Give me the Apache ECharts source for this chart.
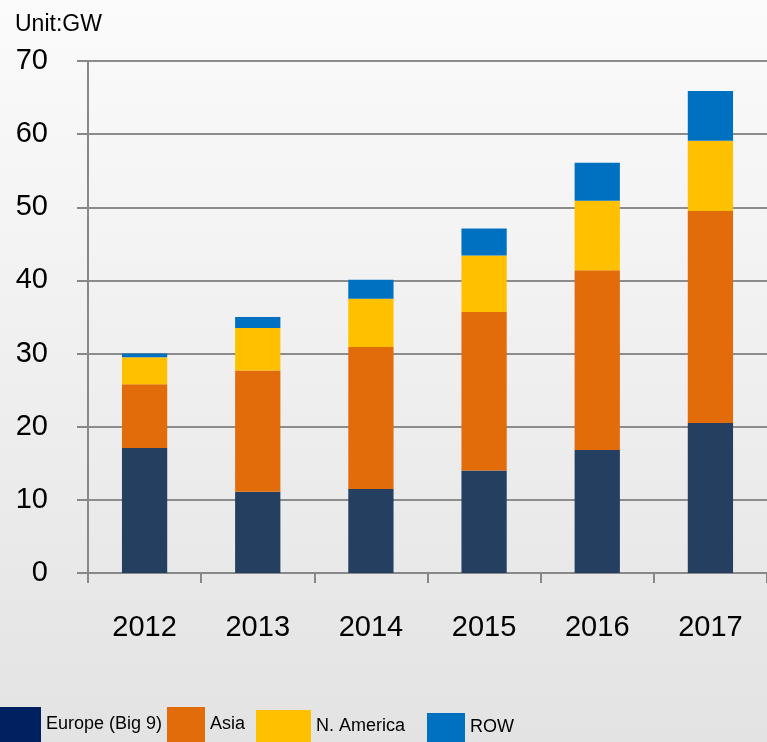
<!DOCTYPE html>
<html>
<head>
<meta charset="utf-8">
<script src="https://cdn.jsdelivr.net/npm/echarts@6/dist/echarts.min.js"></script>
<style>
  html, body { margin: 0; padding: 0; }
  #chart { width: 767px; height: 742px; }
</style>
</head>
<body>
<div id="chart"></div>
<script>
// categories and tick labels
var years = ['2012', '2013', '2014', '2015', '2016', '2017']
var yTicks = [0, 10, 20, 30, 40, 50, 60, 70]
// series values (GW, stacked segments)
var europe = [17.1, 11.1, 11.5, 14.0, 16.8, 20.5]
var asia = [8.7, 16.6, 19.4, 21.7, 24.6, 29.0]
var nAmerica = [3.7, 5.8, 6.6, 7.7, 9.5, 9.6]
var row = [0.5, 1.5, 2.6, 3.7, 5.2, 6.8]

var chart = echarts.init(document.getElementById('chart'))
var textFont = '"Liberation Sans", Arial, sans-serif'

// one legend per item so each swatch can keep its own size
function legendItem(name, color, left, w, h) {
  return {
    data: [{ name: name, itemStyle: { color: color } }],
    left: left,
    bottom: 0,
    itemWidth: w,
    itemHeight: h,
    itemGap: 0,
    padding: 0,
    selectedMode: false,
    icon: 'rect',
    textStyle: { fontFamily: textFont, fontSize: 18, color: '#000', padding: [10, 0, 0, 0] }
  }
}

chart.setOption({
  backgroundColor: new echarts.graphic.LinearGradient(0, 0, 0, 1, [
    { offset: 0, color: '#fbfbfb' },
    { offset: 1, color: '#e3e3e3' }
  ]),
  title: {
    text: 'Unit:GW',
    left: 10,
    top: 8,
    textStyle: { fontFamily: textFont, fontSize: 23, fontWeight: 'normal', color: '#000' }
  },
  legend: [
    legendItem('Europe (Big 9)', '#002060', 0, 41, 35),
    legendItem('Asia', '#e36c0a', 167, 38, 35),
    legendItem('N. America', '#ffc000', 256, 55, 32),
    legendItem('ROW', '#0070c0', 427, 38, 29)
  ],
  grid: {
    left: 88,
    right: -5,
    top: 61,
    bottom: 169
  },
  xAxis: {
    type: 'category',
    data: years,
    axisLine: { lineStyle: { color: '#888', width: 2 } },
    axisTick: { show: true, length: 10, lineStyle: { color: '#888', width: 2 } },
    axisLabel: { fontFamily: textFont, fontSize: 29, color: '#000', margin: 40 }
  },
  yAxis: {
    type: 'value',
    min: 0,
    max: 70,
    interval: 10,
    axisLine: { show: true, lineStyle: { color: '#888', width: 2 } },
    axisTick: { show: true, length: 11, lineStyle: { color: '#888', width: 2 } },
    splitLine: { lineStyle: { color: '#8c8c8c', width: 2 } },
    axisLabel: {
      fontFamily: textFont,
      fontSize: 29,
      color: '#000',
      margin: 40,
      formatter: function (v) { return yTicks.indexOf(v) >= 0 ? String(v) : '' }
    }
  },
  series: [
    { name: 'Europe (Big 9)', type: 'bar', stack: 'a', barWidth: '40%', data: europe,
      itemStyle: { color: '#243f60' } },
    { name: 'Asia', type: 'bar', stack: 'a', data: asia, itemStyle: { color: '#e36c0a' } },
    { name: 'N. America', type: 'bar', stack: 'a', data: nAmerica, itemStyle: { color: '#ffc000' } },
    { name: 'ROW', type: 'bar', stack: 'a', data: row, itemStyle: { color: '#0070c0' } }
  ]
})
</script>
</body>
</html>
